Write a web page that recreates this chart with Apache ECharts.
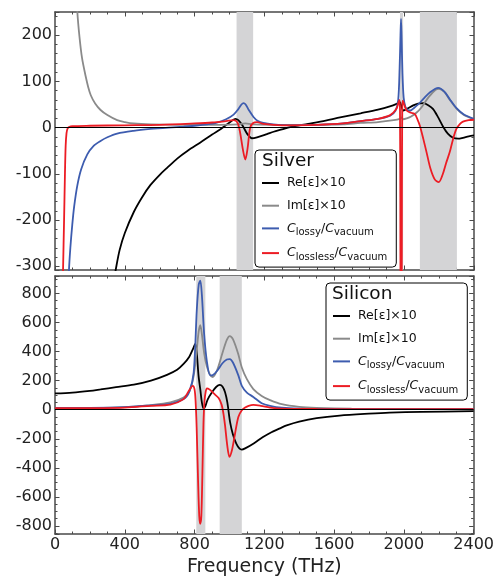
<!DOCTYPE html>
<html>
<head>
<meta charset="utf-8">
<script src="https://cdn.jsdelivr.net/npm/echarts@6/dist/echarts.min.js"></script>
<style>
  html, body { margin: 0; padding: 0; background: #fff; }
  #chart { width: 497px; height: 578px; }
</style>
</head>
<body>
<div id="chart"></div>
<script>
// silver, [frequency THz, value]
var agRe = [[330,-345],[347,-309],[370,-265],[400,-228],[452,-182],[500,-150],[547,-124],[600,-102],[642,-87],[700,-67],[760,-50],[833,-32],[900,-15],[950,-3],[1000,11],[1033,19],[1050,16],[1075,4],[1100,-13],[1128,-23],[1157,-21],[1214,-14],[1252,-9],[1300,-4],[1347,1],[1450,8],[1550,15],[1633,22],[1750,31],[1850,39],[1918,46],[1960,52],[1975,55],[1985,45],[1995,37],[2015,40],[2052,48],[2080,52],[2110,53],[2140,48],[2166,40],[2195,22],[2223,2],[2250,-13],[2280,-22],[2310,-24],[2337,-22],[2370,-19],[2400,-17]];
var agIm = [[110,375],[128,250],[140,197],[155,150],[175,112],[190,88],[205,70],[230,52],[261,38],[300,27],[356,16],[400,12],[450,9],[550,7],[700,6],[900,6],[1050,7],[1090,9],[1130,7],[1300,6],[1500,6],[1650,7],[1750,10],[1850,12],[1940,16],[1975,19],[1985,22],[1995,18],[2015,20],[2040,24],[2070,32],[2100,44],[2140,66],[2180,82],[2200,84],[2230,77],[2260,61],[2300,41],[2340,28],[2400,18]];
var agCLossy = [[76,-360],[80,-309],[88,-260],[99,-210],[110,-170],[128,-125],[150,-90],[185,-58],[220,-40],[261,-29],[300,-21],[356,-13],[450,-7],[547,-3],[650,0],[737,2],[800,4],[870,7],[928,11],[980,18],[1023,28],[1050,40],[1068,50],[1080,53],[1092,50],[1110,38],[1137,23],[1160,15],[1194,10],[1250,7],[1350,5],[1500,6],[1650,9],[1750,14],[1850,19],[1920,26],[1950,36],[1966,60],[1974,130],[1979,200],[1982,235],[1985,200],[1990,120],[1997,65],[2007,45],[2020,38],[2035,37],[2055,42],[2080,50],[2110,62],[2150,77],[2195,86],[2230,78],[2260,62],[2300,42],[2340,29],[2400,19]];
var agCLossless = [[40,-420],[46,-309],[52,-200],[57,-100],[61,-40],[66,-12],[72,-2],[80,1],[100,3],[200,4],[400,5],[600,6],[800,9],[900,11],[980,14],[1023,16],[1045,11],[1060,-10],[1075,-45],[1090,-69],[1103,-45],[1118,0],[1135,10],[1157,12],[1194,8],[1300,5],[1500,6],[1650,9],[1750,14],[1850,19],[1920,27],[1955,40],[1968,55],[1973,60],[1976,40],[1978,-150],[1980,-420],[1985,-420],[1987,-150],[1989,40],[1992,58],[2000,50],[2014,37],[2040,32],[2061,29],[2076,18],[2090,4],[2110,-25],[2128,-53],[2150,-88],[2175,-112],[2198,-118],[2220,-102],[2240,-77],[2261,-53],[2280,-25],[2299,-3],[2320,8],[2337,13],[2370,16],[2400,17]];

// silicon, [frequency THz, value]
var siRe = [[0,112],[100,118],[200,130],[261,140],[350,155],[452,172],[550,200],[642,240],[700,275],[737,315],[770,365],[790,415],[804,452],[812,400],[823,233],[833,140],[842,50],[852,8],[862,25],[875,70],[900,120],[925,158],[944,171],[960,160],[975,120],[988,50],[1004,-87],[1020,-170],[1040,-235],[1058,-268],[1071,-274],[1090,-266],[1139,-232],[1190,-190],[1233,-160],[1290,-128],[1328,-108],[1400,-82],[1500,-58],[1632,-40],[1800,-27],[1918,-20],[2100,-15],[2400,-10]];
var siIm = [[0,10],[200,12],[400,18],[550,32],[661,50],[737,84],[770,125],[795,233],[813,415],[824,540],[833,582],[842,520],[855,390],[871,295],[890,238],[905,225],[930,275],[960,390],[985,480],[1002,507],[1020,485],[1050,385],[1071,290],[1100,210],[1137,142],[1185,95],[1233,66],[1300,38],[1400,20],[1500,13],[1700,7],[2000,5],[2400,4]];
var siCLossy = [[0,12],[200,13],[400,18],[550,30],[661,41],[737,73],[770,125],[795,255],[813,690],[824,860],[833,888],[842,790],[855,520],[871,330],[890,236],[905,238],[930,268],[960,320],[985,345],[1002,348],[1020,325],[1050,240],[1071,164],[1100,118],[1137,88],[1185,45],[1233,27],[1300,14],[1400,8],[1600,5],[2000,4],[2400,4]];
var siCLossless = [[0,10],[200,11],[400,15],[550,27],[661,35],[737,73],[765,125],[790,164],[800,140],[806,60],[812,-120],[820,-480],[827,-730],[833,-785],[839,-730],[845,-440],[851,-100],[857,60],[864,125],[871,147],[885,140],[910,112],[938,80],[955,35],[966,-30],[975,-110],[988,-250],[1000,-324],[1015,-275],[1032,-165],[1051,-50],[1070,-5],[1090,15],[1110,27],[1137,33],[1180,27],[1233,15],[1300,8],[1500,5],[2400,4]];

// shaded frequency bands
var agBands = [[1040,1135],[1976,1994],[2090,2302]];
var siBands = [[810,862],[944,1071]];

var labels = {
  re: 'Re[\u03b5]\u00d710',
  im: 'Im[\u03b5]\u00d710',
  lossy: '{i|C}{s|lossy}/{i|C}{s|vacuum}',
  lossless: '{i|C}{s|lossless}/{i|C}{s|vacuum}'
};

var font = 'DejaVu Sans';
var frame = '#4a4a4a';

var chart = echarts.init(document.getElementById('chart'), null, {renderer: 'canvas'});

function xAx(grid, pos, showLabels) {
  var ax = {
    type: 'value', gridIndex: grid, position: pos, min: 0, max: 2400, interval: 400,
    axisLine: {show: true, onZero: false, lineStyle: {color: frame, width: 1.5}},
    axisTick: {show: true, inside: true, length: 4.5, lineStyle: {color: frame, width: 1}},
    minorTick: {show: true, splitNumber: 4, length: 2.5, lineStyle: {color: frame, width: 1}},
    splitLine: {show: false},
    axisLabel: {show: showLabels, fontFamily: font, fontSize: 16, color: '#222', margin: 3,
      formatter: function(v) { return String(v); }}
  };
  if (showLabels) {
    ax.name = 'Frequency (THz)';
    ax.nameLocation = 'middle';
    ax.nameGap = 24;
    ax.nameTextStyle = {fontFamily: font, fontSize: 19, color: '#222'};
  }
  return ax;
}

function yAx(grid, pos, min, max, split, minor, showLabels) {
  return {
    type: 'value', gridIndex: grid, position: pos, min: min, max: max, splitNumber: split,
    axisLine: {show: true, onZero: false, lineStyle: {color: frame, width: 1.5}},
    axisTick: {show: true, inside: true, length: 4.5, lineStyle: {color: frame, width: 1}},
    minorTick: {show: true, splitNumber: minor, length: 2.5, lineStyle: {color: frame, width: 1}},
    splitLine: {show: false},
    axisLabel: {show: showLabels, showMinLabel: false, showMaxLabel: false,
      fontFamily: font, fontSize: 16, color: '#222', margin: 3,
      formatter: function(v) { return String(v); }}
  };
}

function line(name, data, color, idx) {
  return {
    name: name, type: 'line', data: data, xAxisIndex: idx, yAxisIndex: idx,
    showSymbol: false, smooth: 0.3, clip: true, z: 3,
    lineStyle: {color: color, width: 1.8}, itemStyle: {color: color},
    emphasis: {disabled: true}
  };
}

function backdrop(bands, idx) {
  return {
    type: 'line', data: [], xAxisIndex: idx, yAxisIndex: idx, z: 1, silent: true,
    markArea: {
      silent: true, itemStyle: {color: '#d4d4d6'},
      data: bands.map(function(b) { return [{xAxis: b[0]}, {xAxis: b[1]}]; })
    },
    markLine: {
      silent: true, symbol: 'none', label: {show: false},
      lineStyle: {color: '#000', width: 1, type: 'solid'},
      data: [{yAxis: 0}]
    }
  };
}

var rich = {
  i: {fontFamily: font, fontSize: 12.5, fontStyle: 'italic', color: '#111', lineHeight: 14},
  s: {fontFamily: font, fontSize: 10, color: '#111', lineHeight: 14, verticalAlign: 'top', padding: [6, 0, 0, 0]}
};

function legendFor(prefix, left, top) {
  return {
    orient: 'vertical', left: left, top: top,
    data: [prefix + 're', prefix + 'im', prefix + 'lossy', prefix + 'lossless'],
    icon: 'rect', itemWidth: 17, itemHeight: 2, itemGap: 8.7,
    padding: [26, 9, 5, 7],
    borderColor: '#000', borderWidth: 1, borderRadius: 4, backgroundColor: '#fff',
    selectedMode: false,
    formatter: function(name) { return labels[name.slice(3)]; },
    textStyle: {fontFamily: font, fontSize: 12.5, color: '#111', lineHeight: 14, padding: [0, 0, 0, 3], rich: rich}
  };
}

chart.setOption({
  animation: false,
  backgroundColor: '#fff',
  grid: [
    {left: 55, top: 12, width: 419, height: 258},
    {left: 55, top: 276, width: 419, height: 259}
  ],
  xAxis: [xAx(0, 'bottom', false), xAx(0, 'top', false), xAx(1, 'bottom', true), xAx(1, 'top', false)],
  yAxis: [
    yAx(0, 'left', -308, 250, 6, 5, true), yAx(0, 'right', -308, 250, 6, 5, false),
    yAx(1, 'left', -855, 920, 9, 4, true), yAx(1, 'right', -855, 920, 9, 4, false)
  ],
  legend: [legendFor('ag_', 255, 150), legendFor('si_', 326, 283)],
  graphic: [
    {type: 'text', left: 262, top: 152, z: 100, style: {text: 'Silver', fontFamily: font, fontSize: 18.5, fill: '#111'}},
    {type: 'text', left: 332, top: 285, z: 100, style: {text: 'Silicon', fontFamily: font, fontSize: 18.5, fill: '#111'}}
  ],
  series: [
    backdrop(agBands, 0),
    line('ag_re', agRe, '#000000', 0),
    line('ag_im', agIm, '#8a8a8a', 0),
    line('ag_lossy', agCLossy, '#3d5caf', 0),
    line('ag_lossless', agCLossless, '#ec1c24', 0),
    backdrop(siBands, 2),
    line('si_re', siRe, '#000000', 2),
    line('si_im', siIm, '#8a8a8a', 2),
    line('si_lossy', siCLossy, '#3d5caf', 2),
    line('si_lossless', siCLossless, '#ec1c24', 2)
  ]
});
</script>
</body>
</html>
